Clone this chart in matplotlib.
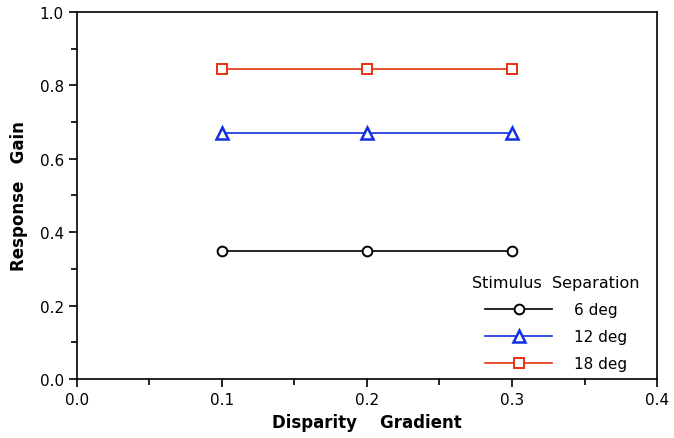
import matplotlib
matplotlib.use("Agg")
import matplotlib.pyplot as plt
from matplotlib.ticker import MultipleLocator

# Dados
gradiente = [0.1, 0.2, 0.3]
ganho_6 = [0.35, 0.35, 0.35]
ganho_12 = [0.67, 0.67, 0.67]
ganho_18 = [0.845, 0.845, 0.845]
rotulos = ["6 deg", "12 deg", "18 deg"]

fig = plt.figure(figsize=(6.74, 4.39), dpi=100)
ax = fig.add_axes([0.1142, 0.1344, 0.8606, 0.836])

ax.plot(gradiente, ganho_6, color="black", lw=1.2, marker="o", ms=7,
        mfc="white", mec="black", mew=1.4, label=rotulos[0])
ax.plot(gradiente, ganho_12, color="#1030e0", lw=1.2, marker="^", ms=9,
        mfc="white", mec="#1030e0", mew=1.8, label=rotulos[1])
ax.plot(gradiente, ganho_18, color="#e83010", lw=1.2, marker="s", ms=7,
        mfc="white", mec="#e83010", mew=1.4, label=rotulos[2])

ax.set_xlim(0, 0.4)
ax.set_ylim(0, 1.0)
ax.xaxis.set_major_locator(MultipleLocator(0.1))
ax.xaxis.set_minor_locator(MultipleLocator(0.05))
ax.yaxis.set_major_locator(MultipleLocator(0.2))
ax.yaxis.set_minor_locator(MultipleLocator(0.1))
ax.xaxis.set_major_formatter(lambda v, p: f"{v:.1f}")
ax.yaxis.set_major_formatter(lambda v, p: f"{v:.1f}")
ax.tick_params(which="major", direction="out", length=6, width=1.2, labelsize=11)
ax.tick_params(which="minor", direction="out", length=4, width=1.2)
for lado in ax.spines.values():
    lado.set_linewidth(1.2)

ax.set_xlabel("Disparity    Gradient", fontsize=12, fontweight="bold", labelpad=4)
ax.set_ylabel("Response   Gain", fontsize=12, fontweight="bold", labelpad=8)

leg = ax.legend(title="Stimulus  Separation", loc="lower right", frameon=False,
                fontsize=11, title_fontsize=11.5, handlelength=4.4,
                handletextpad=1.4, labelspacing=0.8, borderaxespad=0.1,
                bbox_to_anchor=(0.983, 0.0))

fig.savefig("out.png", dpi=100)
